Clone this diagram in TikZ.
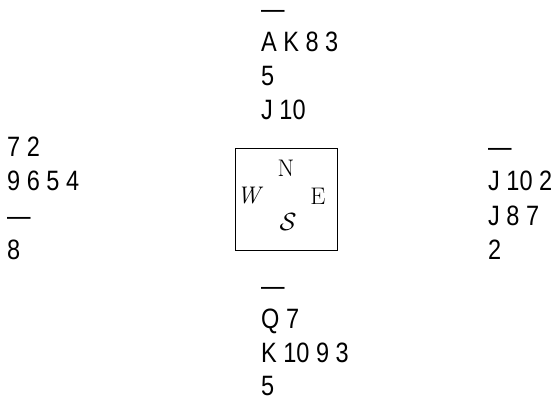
\documentclass[tikz,border=0pt]{standalone}
\usepackage{fontspec}
\newfontfamily\manofont[FakeStretch=0.84]{Liberation Sans}
\tikzset{
  carta/.style={anchor=base west, inner sep=0pt, font=\manofont\fontsize{28pt}{32pt}\selectfont},
  rosa/.style={inner sep=0pt, font=\fontsize{24pt}{28pt}\selectfont}
}
\begin{document}
\begin{tikzpicture}[x=1pt,y=-1pt]
        \useasboundingbox (0,0) rectangle (554,400);

        % Mesa
        \node[draw, line width=1.2pt, minimum size=102pt, inner sep=0pt] (mesa) at (286.5,199.5) {};
        \node[rosa] (rn) at (286,168) {N};
        \node[rosa] (rw) at (250,196) {\textit{W}};
        \node[rosa] (re) at (318,196) {E};
        \node[rosa] (rs) at (288,222) {$\mathcal{S}$};

        % Norte
        \node[carta] (n1) at (261,18) {—};
        \node[carta] (n2) at (261,51) {A K 8 3};
        \node[carta] (n3) at (261,85) {5};
        \node[carta] (n4) at (261,119) {J 10};

        % Oeste
        \node[carta] (w1) at (7,156) {7 2};
        \node[carta] (w2) at (7,190.5) {9 6 5 4};
        \node[carta] (w3) at (7,225) {—};
        \node[carta] (w4) at (7,259.5) {8};

        % Este
        \node[carta] (e1) at (488,156) {—};
        \node[carta] (e2) at (488,190.5) {J 10 2};
        \node[carta] (e3) at (488,225) {J 8 7};
        \node[carta] (e4) at (488,259.5) {2};

        % Sur
        \node[carta] (s1) at (261,295) {—};
        \node[carta] (s2) at (261,328.5) {Q 7};
        \node[carta] (s3) at (261,362) {K 10 9 3};
        \node[carta] (s4) at (261,395.5) {5};
    \end{tikzpicture}
\end{document}
